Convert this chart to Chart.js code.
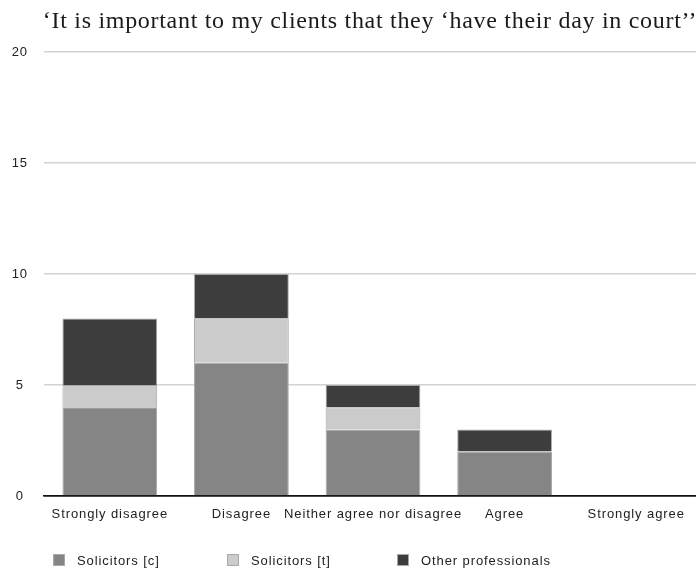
<!DOCTYPE html>
<html>
<head>
<meta charset="utf-8">
<script src="https://cdn.jsdelivr.net/npm/chart.js@4"></script>
<style>
    html, body { margin: 0; padding: 0; background: #fff; overflow: hidden; }
    #wrap { position: relative; width: 702px; height: 572px; }
    #legend { position: absolute; left: 0; top: 554px; width: 696px; height: 16px;
              font-family: "Liberation Sans", Arial, sans-serif; font-size: 13px; letter-spacing: 0.9px; color: #222; }
    .item { position: absolute; top: 0; white-space: nowrap; }
    .box { position: absolute; left: 0; top: 0; width: 12px; height: 12px; box-sizing: border-box; border: 1px solid #a8a8a8; }
    .label { position: absolute; left: 24px; top: -1px; line-height: 15px; }
</style>
</head>
<body>
<div id="wrap">
    <canvas id="surveyChart" width="702" height="572"></canvas>
    <div id="legend"></div>
</div>
<script>
// 回答类别
const categories = ['Strongly disagree', 'Disagree', 'Neither agree nor disagree', 'Agree', 'Strongly agree'];

// 各组人数
const solicitorsC = [4, 6, 3, 2, 0];
const solicitorsT = [1, 2, 1, 0, 0];
const otherProfessionals = [3, 2, 1, 1, 0];

const seriesNames = ['Solicitors [c]', 'Solicitors [t]', 'Other professionals'];
const seriesColors = ['#858585', '#cbcbcb', '#3d3d3d'];

// 纵轴刻度
const yTicks = [0, 5, 10, 15, 20];

const chartTitle = '\u2018It is important to my clients that they \u2018have their day in court\u2019\u2019';

// 图例位置
const legendLeft = [53, 227, 397];

const sansFont = '"Liberation Sans", Arial, sans-serif';

// 刻度文字拉开字距，标题单独画
const textPlugin = {
    id: 'textStyle',
    beforeDraw(chart) {
        chart.ctx.letterSpacing = '0.9px';
    },
    afterDraw(chart) {
        const { ctx, chartArea } = chart;
        ctx.save();
        ctx.letterSpacing = '0.7px';
        ctx.font = '24px "Liberation Serif", "DejaVu Serif", serif';
        ctx.fillStyle = '#1a1a1a';
        ctx.textAlign = 'center';
        ctx.textBaseline = 'middle';
        ctx.fillText(chartTitle, (chartArea.left + 696) / 2, 22);
        ctx.restore();
    }
};

function initChart() {
    const ctx = document.getElementById('surveyChart').getContext('2d');
    const seriesData = [solicitorsC, solicitorsT, otherProfessionals];

    new Chart(ctx, {
        type: 'bar',
        data: {
            labels: categories,
            datasets: seriesData.map((values, i) => ({
                label: seriesNames[i],
                data: values,
                backgroundColor: seriesColors[i],
                borderColor: '#a8a8a8',
                borderWidth: 1,
                barPercentage: 0.72,
                categoryPercentage: 1
            }))
        },
        plugins: [textPlugin],
        options: {
            responsive: false,
            animation: false,
            layout: { padding: { left: 0, right: 0, top: 52, bottom: 50 } },
            plugins: {
                legend: { display: false },
                tooltip: { enabled: false },
                title: { display: false }
            },
            scales: {
                x: {
                    stacked: true,
                    grid: { display: false, drawTicks: false },
                    border: { display: true, color: '#111', width: 1.5 },
                    ticks: {
                        color: '#222',
                        padding: 11,
                        maxRotation: 0,
                        autoSkip: false,
                        font: { family: sansFont, size: 13 }
                    },
                    afterFit: scale => { scale.height = 26; }
                },
                y: {
                    stacked: true,
                    min: yTicks[0],
                    max: yTicks[yTicks.length - 1],
                    afterBuildTicks: scale => { scale.ticks = yTicks.map(v => ({ value: v })); },
                    grid: {
                        drawTicks: false,
                        color: c => c.tick && c.tick.value === 0 ? '#111' : '#d3d3d3',
                        lineWidth: 1.5
                    },
                    border: { display: false },
                    ticks: {
                        color: '#222',
                        crossAlign: 'center',
                        padding: 17,
                        font: { family: sansFont, size: 13 }
                    },
                    afterFit: scale => { scale.width = 44; }
                }
            }
        }
    });

    // 图例
    const legend = document.getElementById('legend');
    seriesNames.forEach((name, i) => {
        const item = document.createElement('div');
        item.className = 'item';
        item.style.left = legendLeft[i] + 'px';
        item.innerHTML = `<span class="box" style="background:${seriesColors[i]}"></span><span class="label">${name}</span>`;
        legend.appendChild(item);
    });
}

document.addEventListener('DOMContentLoaded', initChart);
</script>
</body>
</html>
